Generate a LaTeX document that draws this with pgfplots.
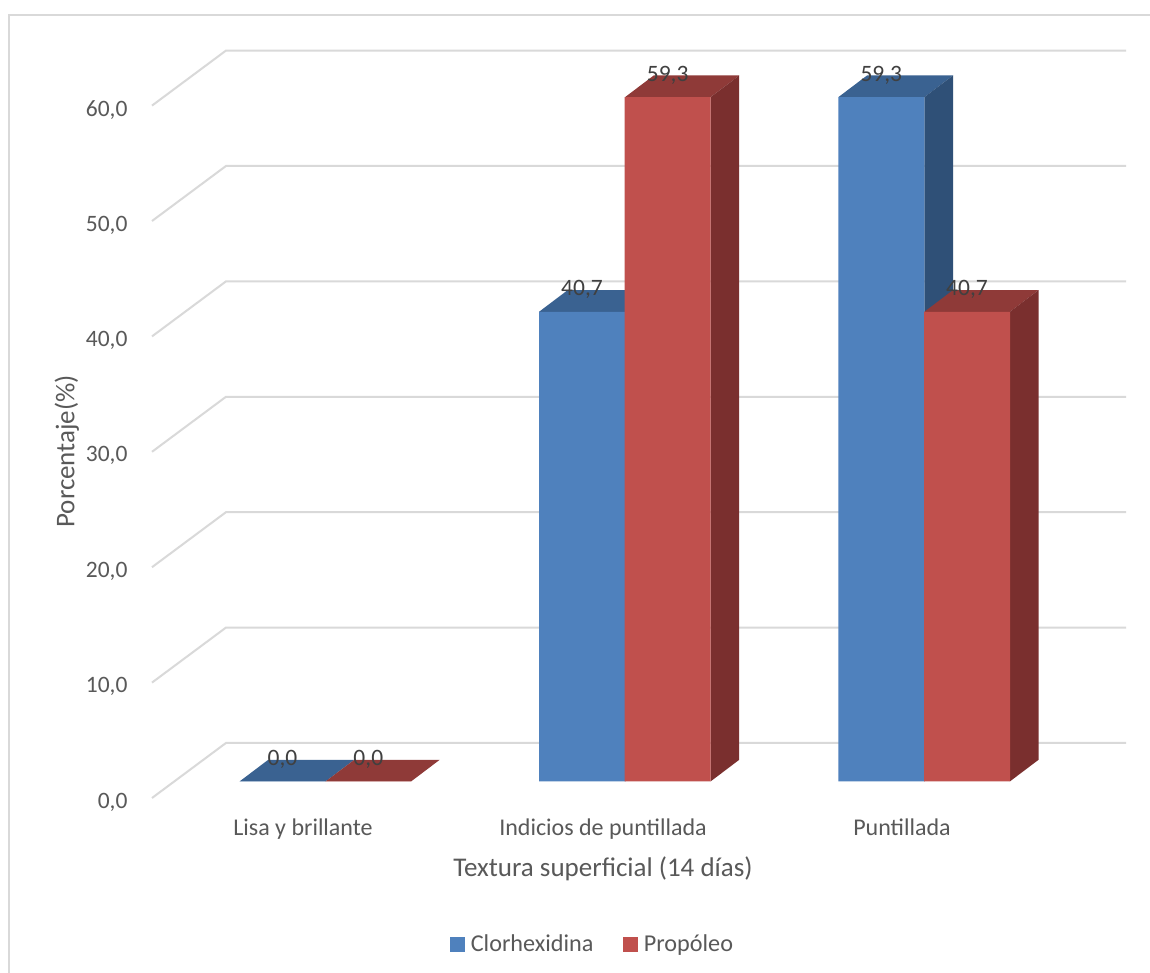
\documentclass[border=0pt]{standalone}
\usepackage{fontspec}
\setmainfont{Carlito}
\usepackage{pgfplots}
\pgfplotsset{compat=1.18}

\definecolor{bluefront}{HTML}{4F81BD}
\definecolor{bluetop}{HTML}{3A6291}
\definecolor{blueside}{HTML}{2F5077}
\definecolor{redfront}{HTML}{C0504D}
\definecolor{redtop}{HTML}{8F3A38}
\definecolor{redside}{HTML}{7A2F2E}
\definecolor{gridgray}{HTML}{D9D9D9}
\definecolor{labelgray}{HTML}{595959}
\definecolor{valuegray}{HTML}{404040}

\pgfkeys{/pgf/number format/comma format/.style={/pgf/number format/fixed,/pgf/number format/fixed zerofill,/pgf/number format/precision=1,/pgf/number format/use comma,/pgf/number format/assume math mode=true}}
\pgfplotsset{
  wall/.style={draw=gridgray,line width=2pt,forget plot},
  face/.style={draw=none,fill=#1,forget plot,yshift=16.5pt},
  front/.style={ybar,draw=none,fill=#1,bar width=86pt,forget plot,yshift=16.5pt,
    nodes near coords={\pgfmathprintnumber[comma format]{\pgfplotspointmeta}},
    nodes near coords style={font=\fontsize{23.5}{28}\selectfont,text=valuegray,anchor=center,yshift=22pt}},
}

\begin{document}
\begin{tikzpicture}[x=1pt,y=1pt]
\useasboundingbox (0,0) rectangle (1150,973);
\fill[white] (0,0) rectangle (1150,973);
\draw[gridgray,line width=1.6pt] (9,0) -- (9,958) -- (1150,958);
\begin{axis}[
  at={(152pt,175pt)},anchor=south west,
  scale only axis,width=974pt,height=747.3pt,
  xmin=152,xmax=1126,ymin=0,ymax=64.76,
  clip=false,
  axis line style={draw=none},
  major tick length=0pt,
  tick style={draw=none},
  xtick={303,603,902},
  xticklabels={Lisa y brillante,Indicios de puntillada,Puntillada},
  ytick={0,10,20,30,40,50,60},
  yticklabel style={/pgf/number format/comma format,font=\fontsize{23.5}{28}\selectfont,text=labelgray,anchor=east,xshift=-21pt,yshift=-4pt},
  xticklabel style={font=\fontsize{24}{28}\selectfont,text=labelgray,anchor=base,yshift=-38pt},
  xlabel={Textura superficial (14 días)},
  ylabel={Porcentaje(\%)},
  xlabel style={font=\fontsize{27}{32}\selectfont,text=labelgray,at={(axis description cs:0.463,-0.095)},anchor=center},
  ylabel style={font=\fontsize{27}{32}\selectfont,text=labelgray,at={(axis description cs:-0.0875,0.464)},anchor=center},
  legend style={draw=none,fill=none,at={(axis description cs:0.4525,-0.1954)},anchor=center,
    legend columns=2,font=\fontsize{24.2}{28}\selectfont,text=labelgray,
    /tikz/every even column/.append style={column sep=28pt},
    /tikz/every odd column/.append style={column sep=4pt}},
]
% Depth wall: a slanted stroke and a horizontal stroke for every gridline
\addplot[wall] coordinates {(152,0) (226,4.77) (1126,4.77)};
\addplot[wall] coordinates {(152,10) (226,14.77) (1126,14.77)};
\addplot[wall] coordinates {(152,20) (226,24.77) (1126,24.77)};
\addplot[wall] coordinates {(152,30) (226,34.77) (1126,34.77)};
\addplot[wall] coordinates {(152,40) (226,44.77) (1126,44.77)};
\addplot[wall] coordinates {(152,50) (226,54.77) (1126,54.77)};
\addplot[wall] coordinates {(152,60) (226,64.77) (1126,64.77)};

% Clorhexidina: top and side faces
\addplot[face=bluetop] coordinates {(239.5,0) (325.5,0) (354.2,1.88) (268.2,1.88)};
\addplot[face=bluetop] coordinates {(539,40.7) (625,40.7) (653.7,42.58) (567.7,42.58)};
\addplot[face=blueside] coordinates {(625,0) (653.7,1.88) (653.7,42.58) (625,40.7)};
\addplot[face=bluetop] coordinates {(838.3,59.3) (924.3,59.3) (953,61.18) (867,61.18)};
\addplot[face=blueside] coordinates {(924.3,0) (953,1.88) (953,61.18) (924.3,59.3)};
% Propóleo: top and side faces
\addplot[face=redtop] coordinates {(325.5,0) (411,0) (439.7,1.88) (354.2,1.88)};
\addplot[face=redtop] coordinates {(625,59.3) (710.5,59.3) (739.2,61.18) (653.7,61.18)};
\addplot[face=redside] coordinates {(710.5,0) (739.2,1.88) (739.2,61.18) (710.5,59.3)};
\addplot[face=redtop] coordinates {(924.3,40.7) (1009.8,40.7) (1038.5,42.58) (953,42.58)};
\addplot[face=redside] coordinates {(1009.8,0) (1038.5,1.88) (1038.5,42.58) (1009.8,40.7)};

% Front faces, with their stated values
\addplot[front=bluefront] coordinates {(282.5,0) (582,40.7) (881.3,59.3)};
\addplot[front=redfront] coordinates {(368.3,0) (667.7,59.3) (967,40.7)};

\addlegendimage{legend image code/.code={\fill[bluefront] (0pt,-7pt) rectangle (14pt,7pt);}}
\addlegendentry{Clorhexidina}
\addlegendimage{legend image code/.code={\fill[redfront] (0pt,-7pt) rectangle (14pt,7pt);}}
\addlegendentry{Propóleo}
\end{axis}
\end{tikzpicture}
\end{document}
